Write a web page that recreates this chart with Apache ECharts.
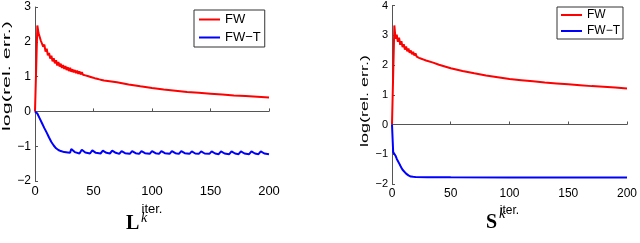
<!DOCTYPE html>
<html><head><meta charset="utf-8">
<script src="https://cdn.jsdelivr.net/npm/echarts@6/dist/echarts.min.js"></script>
<style>html,body{margin:0;padding:0;background:#fff}#c{width:640px;height:243px}</style>
</head><body><div id="c"></div>
<script>
// ---- data ----
const seriesNames = ['FW', 'FW\u2212T'];
const xTicks = [0, 50, 100, 150, 200];
const leftYTicks = [-2, -1, 0, 1, 2, 3];
const rightYTicks = [-2, -1, 0, 1, 2, 3, 4];
const yAxisTitle = 'log(rel. err.)';
const xAxisTitle = 'iter.';

// Panel L^k : FW
const L_FW_iter = [0,2,3,4,5,6,7,8,9,10,11,12,13,14,15,16,17,18,19,20,21,22,23,24,25,26,27,28,29,30,31,32,33,34,35,36,37,38,39,40,41,42,43,44,45,46,47,48,49,50,51,52,53,54,55,56,57,58,59,60,70,80,90,100,110,120,130,140,150,160,170,180,190,200];
const L_FW_val  = [0,2.47,2.25,2.27,2.03,2.08,1.86,1.92,1.72,1.80,1.61,1.68,1.52,1.60,1.44,1.53,1.38,1.47,1.32,1.42,1.29,1.37,1.25,1.33,1.22,1.30,1.19,1.27,1.16,1.25,1.14,1.21,1.12,1.19,1.10,1.17,1.08,1.15,1.06,1.13,1.055,1.095,1.035,1.075,1.015,1.055,0.995,1.035,0.975,1.015,0.955,0.995,0.94,0.98,0.92,0.965,0.905,0.945,0.89,0.93,0.835,0.775,0.72,0.67,0.63,0.595,0.56,0.535,0.51,0.485,0.46,0.44,0.42,0.40];
// Panel L^k : FW-T
const L_FWT_iter = [0,2,4,6,8,10,12,14,16,18,20,22,25,28,30,31,34,38,40,43,47,49,52,56,58,61,64,66,69,72,74,77,81,83,86,89,91,94,98,100,103,106,108,111,115,117,120,123,125,128,132,134,137,140,142,145,149,151,154,157,159,162,166,168,171,174,176,179,183,185,188,191,193,196,200];
const L_FWT_val  = [0,-0.06,-0.2,-0.34,-0.48,-0.61,-0.75,-0.88,-0.98,-1.06,-1.11,-1.14,-1.17,-1.18,-1.19,-1.08,-1.17,-1.21,-1.10,-1.18,-1.21,-1.12,-1.19,-1.21,-1.13,-1.19,-1.21,-1.13,-1.19,-1.22,-1.14,-1.20,-1.22,-1.14,-1.20,-1.22,-1.14,-1.20,-1.22,-1.14,-1.20,-1.22,-1.14,-1.20,-1.22,-1.14,-1.20,-1.22,-1.14,-1.20,-1.22,-1.15,-1.21,-1.22,-1.15,-1.21,-1.22,-1.15,-1.21,-1.23,-1.15,-1.21,-1.23,-1.15,-1.21,-1.23,-1.15,-1.21,-1.23,-1.15,-1.21,-1.23,-1.15,-1.21,-1.23];

// Panel S^k : FW
const S_FW_iter = [0,2,3,4,5,6,7,8,9,10,11,12,13,14,15,16,17,18,19,20,21,22,23,24,25,26,27,28,29,30,35,40,50,60,70,80,90,100,110,120,130,140,150,160,170,180,190,200];
const S_FW_val  = [0,3.33,2.88,3.02,2.78,2.92,2.68,2.80,2.60,2.70,2.52,2.62,2.46,2.55,2.41,2.49,2.36,2.44,2.32,2.39,2.28,2.34,2.24,2.30,2.21,2.26,2.18,2.22,2.15,2.18,2.08,2.01,1.89,1.80,1.72,1.65,1.59,1.53,1.49,1.45,1.41,1.38,1.35,1.32,1.29,1.27,1.24,1.21];
// Panel S^k : FW-T
const S_FWT_iter = [0,1,2,3,4,5,6,7,8,9,10,12,14,16,18,20,30,50,100,150,200];
const S_FWT_val  = [0,-0.93,-0.97,-1.05,-1.15,-1.23,-1.3,-1.38,-1.45,-1.52,-1.58,-1.65,-1.71,-1.75,-1.76,-1.765,-1.77,-1.775,-1.78,-1.78,-1.78];

const pairs = (xs, ys) => xs.map((x, i) => [x, ys[i]]);

const FONT = '"Liberation Sans", Arial, Helvetica, sans-serif';
function xAxis(gi, fs) {
  return {
    type: 'value', gridIndex: gi, min: xTicks[0], max: xTicks[xTicks.length-1], interval: 50,
    name: xAxisTitle, nameLocation: 'middle', nameGap: 16,
    nameTextStyle: { color: '#000', fontSize: fs, fontFamily: FONT },
    axisLine: { lineStyle: { color: '#555', width: 1 } },
    axisTick: { inside: true, length: 3, lineStyle: { color: '#555' } },
    axisLabel: { color: '#000', fontSize: fs, fontFamily: FONT, margin: 4 },
    splitLine: { show: false }
  };
}
function yAxis(gi, ticks, fs) {
  return {
    type: 'value', gridIndex: gi, min: ticks[0], max: ticks[ticks.length-1], interval: 1,
    axisLine: { show: true, lineStyle: { color: '#555', width: 1 } },
    axisTick: { show: true, inside: true, length: 3, lineStyle: { color: '#555' } },
    axisLabel: { color: '#000', fontSize: fs, fontFamily: FONT, margin: 4,
      formatter: v => (v < 0 ? '\u2212' + Math.abs(v) : '' + v) },
    splitLine: { show: false }
  };
}
function line(name, data, color, xi) {
  return { type: 'line', name, data, xAxisIndex: xi, yAxisIndex: xi, symbol: 'none',
    lineStyle: { color, width: 2 }, itemStyle: { color }, animation: false, z: name === seriesNames[1] ? 3 : 2 };
}
function legend(left, top, fs, gap, pad) {
  return {
    data: seriesNames, orient: 'vertical', left, top, itemGap: gap,
    icon: 'rect', itemWidth: 21, itemHeight: 2, itemTextGap: 3,
    borderColor: '#333', borderWidth: 1, padding: pad, backgroundColor: '#fff',
    textStyle: { color: '#000', fontSize: fs, fontFamily: FONT },
    selectedMode: false
  };
}
function yTitle(cx, cy, s) {
  return { type: 'text', x: cx, y: cy, rotation: Math.PI / 2, scaleX: s, scaleY: 1,
    style: { text: yAxisTitle, font: '10px ' + FONT, fill: '#000', align: 'center', verticalAlign: 'middle' } };
}

const chart = echarts.init(document.getElementById('c'), null, { renderer: 'canvas' });
chart.setOption({
  animation: false,
  grid: [
    { left: 35, top: 7, width: 234, height: 174 },
    { left: 392, top: 5, width: 236, height: 179 }
  ],
  xAxis: [xAxis(0, 13), xAxis(1, 12)],
  yAxis: [yAxis(0, leftYTicks, 12), yAxis(1, rightYTicks, 11)],
  legend: [legend(194, 10, 13, 5, [3, 4, 3, 5]), legend(557, 7, 12, 4, [2, 3, 2, 4])],
  series: [
    line(seriesNames[0], pairs(L_FW_iter, L_FW_val), '#ff0000', 0),
    line(seriesNames[1], pairs(L_FWT_iter, L_FWT_val), '#0000ff', 0),
    line(seriesNames[0], pairs(S_FW_iter, S_FW_val), '#ff0000', 1),
    line(seriesNames[1], pairs(S_FWT_iter, S_FWT_val), '#0000ff', 1)
  ],
  graphic: [
    yTitle(7, 76, 2.15),
    yTitle(365, 101, 1.8),
    { type: 'text', left: 126, top: 214, style: { text: 'L', font: 'bold 20px "Liberation Serif", serif', fill: '#000' } },
    { type: 'text', left: 141, top: 211, style: { text: 'k', font: 'italic 14px "Liberation Serif", serif', fill: '#000' } },
    { type: 'text', left: 486, top: 213, style: { text: 'S', font: 'bold 20px "Liberation Serif", serif', fill: '#000' } },
    { type: 'text', left: 499, top: 207, style: { text: 'k', font: 'italic 14px "Liberation Serif", serif', fill: '#000' } }
  ]
});
</script>
</body></html>
